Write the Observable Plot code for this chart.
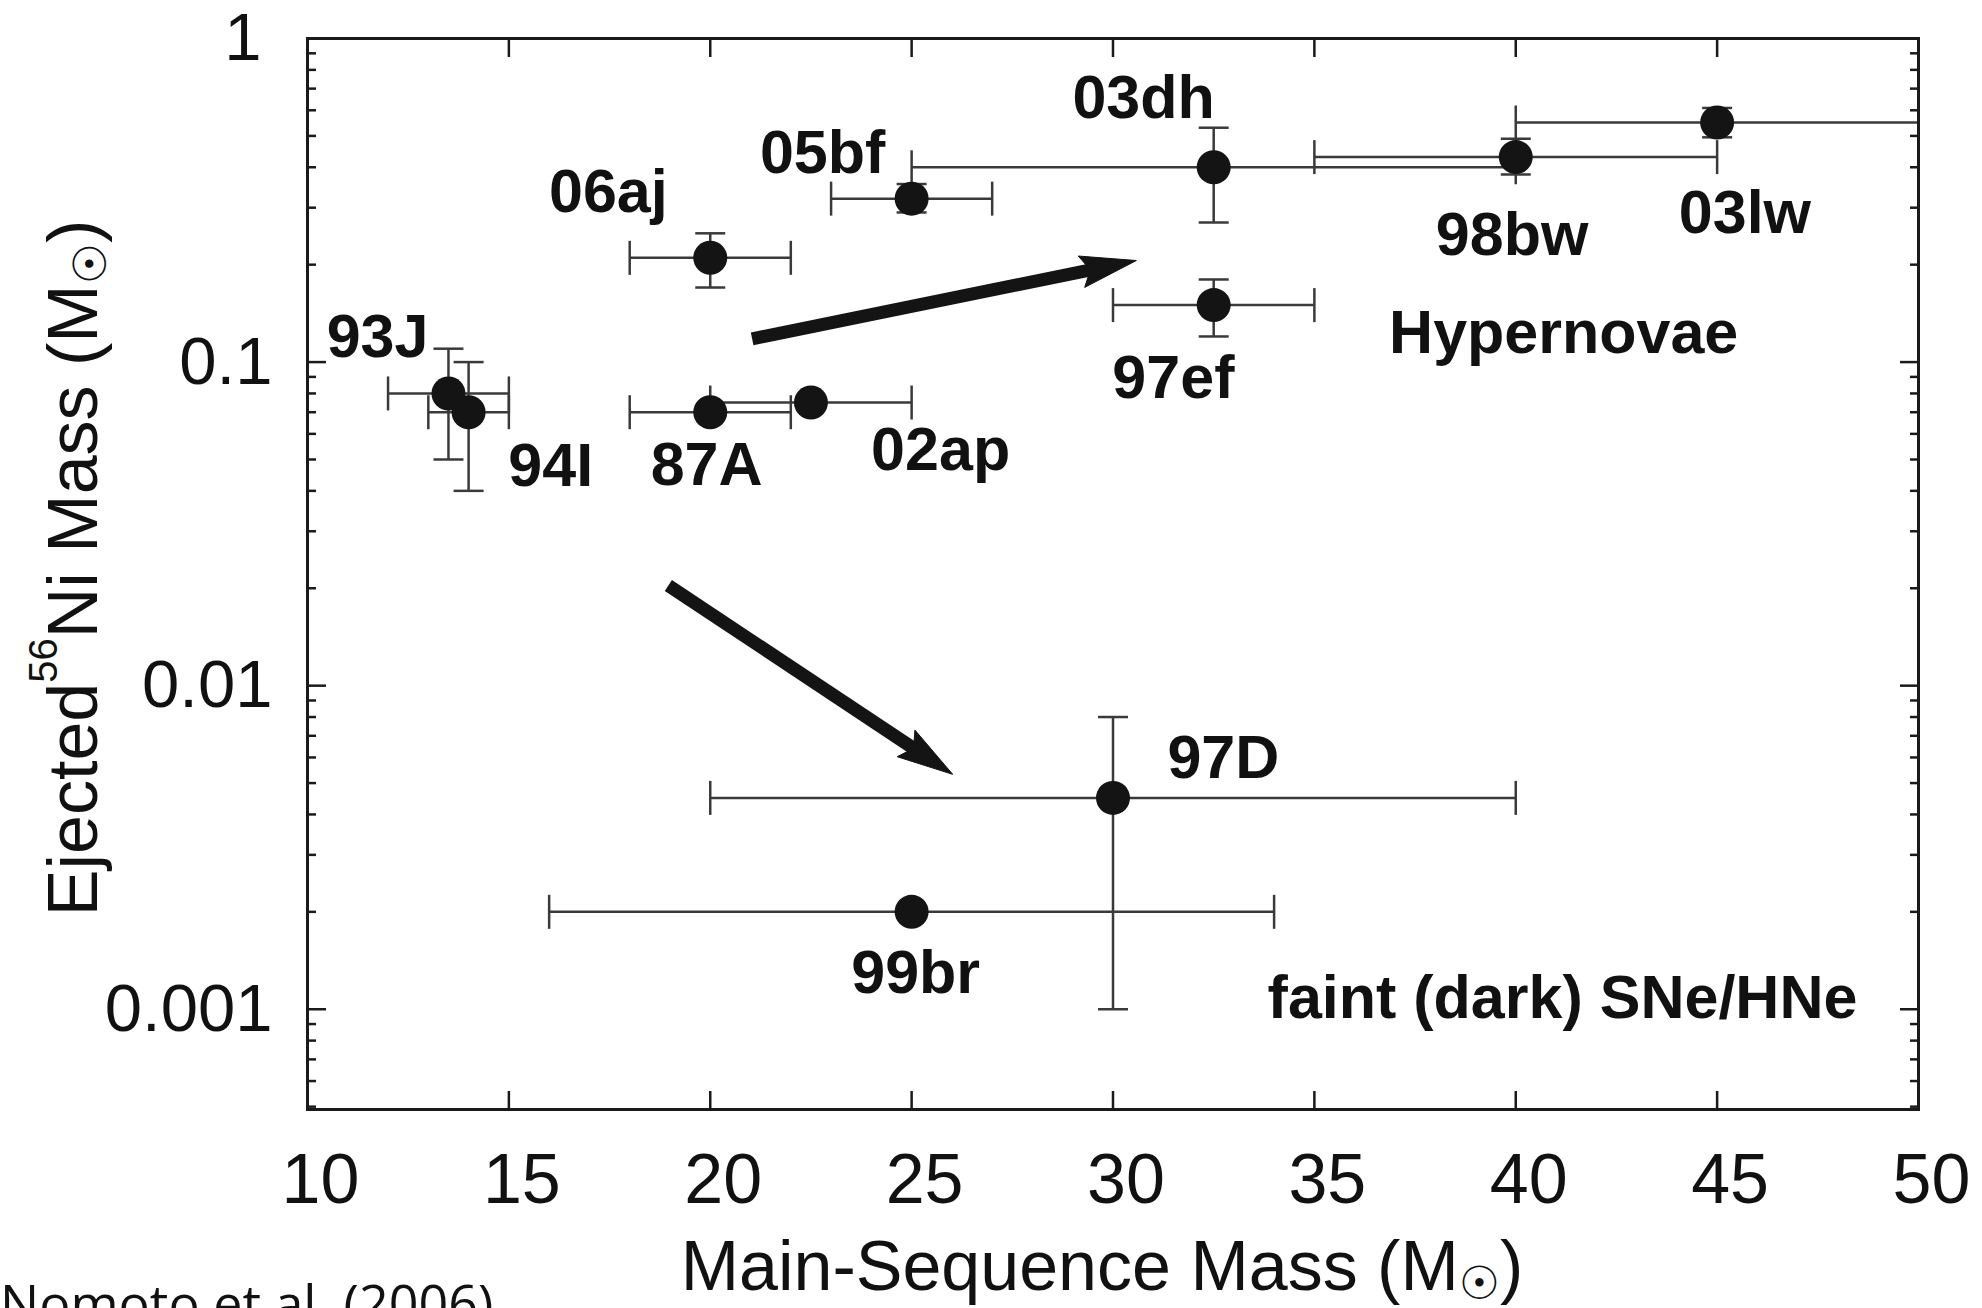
<!DOCTYPE html>
<html>
<head>
<meta charset="utf-8">
<script src="https://cdn.jsdelivr.net/npm/d3@7"></script>
<script src="https://cdn.jsdelivr.net/npm/@observablehq/plot@0.6"></script>
<style>
  html, body { margin: 0; padding: 0; background: #fff; }
  #wrap { position: relative; width: 1982px; height: 1308px; overflow: hidden; background: #fff; }
  #caption { position: absolute; left: 0; top: 1276px; font-family: "Open Sans", sans-serif; font-size: 52px; line-height: 52px; color: #111; white-space: nowrap; }
</style>
</head>
<body>
<div id="wrap"><div id="chart"></div><div id="caption">Nomoto et al. (2006)</div></div>
<script>
// ---- data ----
const names  = ["93J", "94I", "87A", "02ap", "06aj", "05bf", "03dh", "97ef", "98bw", "03lw", "97D", "99br"];
const mass   = [13.5, 14, 20, 22.5, 20, 25, 32.5, 32.5, 40, 45, 30, 25];
const massLo = [12, 13, 18, 20, 18, 23, 25, 30, 35, 40, 20, 16];
const massHi = [15, 15, 22, 25, 22, 27, 40, 35, 45, 50, 40, 34];
const ni     = [0.08, 0.07, 0.07, 0.075, 0.21, 0.32, 0.40, 0.15, 0.43, 0.55, 0.0045, 0.002];
const niLo   = [0.05, 0.04, null, null, 0.17, 0.29, 0.27, 0.12, 0.38, 0.495, 0.001, null];
const niHi   = [0.11, 0.10, null, null, 0.25, 0.355, 0.53, 0.18, 0.49, 0.61, 0.008, null];

const labelText = ["93J", "94I", "87A", "02ap", "06aj", "05bf", "03dh", "97ef", "98bw", "03lw", "97D", "99br", "Hypernovae", "faint (dark) SNe/HNe"];
const labelX    = [11.74, 16.04, 19.91, 25.72, 17.47, 22.79, 30.76, 31.50, 39.91, 45.69, 32.74, 25.1, 41.19, 41.16];
const labelY    = [0.119, 0.0476, 0.0479, 0.0533, 0.334, 0.441, 0.653, 0.0893, 0.246, 0.288, 0.00596, 0.00129, 0.1226, 0.00108];

const arrowX1 = [21.04, 18.96];
const arrowY1 = [0.118, 0.0204];
const arrowX2 = [30.58, 26.02];
const arrowY2 = [0.206, 0.00532];

const xTicks = [10, 15, 20, 25, 30, 35, 40, 45, 50];
const yMajor = [1, 0.1, 0.01, 0.001];
const yMajorLabels = ["1", "0.1", "0.01", "0.001"];
const xDomain = [10, 50];
const yDomain = [0.00049, 1];

// ---- layout ----
const W = 1982, H = 1308, mL = 307, mR = 64, mT = 38, mB = 199;
const FONT = "'Liberation Sans', Arial, Helvetica, sans-serif";
const INK = "#141414";

// tables built from the arrays
const pts = names.map((n, i) => ({name: n, x: mass[i], y: ni[i], xlo: massLo[i], xhi: massHi[i], ylo: niLo[i], yhi: niHi[i]}));
const withY = pts.filter(d => d.ylo != null);
const labels = labelText.map((t, i) => ({t, x: labelX[i], y: labelY[i]}));
const arrows = arrowX1.map((x1, i) => ({x1, y1: arrowY1[i], x2: arrowX2[i], y2: arrowY2[i]}));

// minor log ticks from the log scale itself
const yMinor = d3.scaleLog().domain(yDomain).ticks().filter(v => !yMajor.some(m => Math.abs(m - v) / m < 1e-9));

// cap symbols
const vCap = {draw(ctx, size) { const r = Math.sqrt(size / Math.PI); ctx.moveTo(0, -r); ctx.lineTo(0, r); }};
const hCap = {draw(ctx, size) { const r = Math.sqrt(size / Math.PI); ctx.moveTo(-r, 0); ctx.lineTo(r, 0); }};

// arrow head direction in pixel space (same domain/range as the plot)
const sx = d3.scaleLinear().domain(xDomain).range([mL, W - mR]);
const sy = d3.scaleLog().domain(yDomain).range([H - mB, mT]);
const HEAD_L = 56, HEAD_W = 16, NOTCH = 47;
function headSymbol(theta) {
  const c = Math.cos(theta), s = Math.sin(theta);
  const pt = (a, b) => [a * c - b * s, a * s + b * c];
  return {draw(ctx) {
    const p0 = pt(0, 0), p1 = pt(-HEAD_L, HEAD_W), p2 = pt(-NOTCH, 0), p3 = pt(-HEAD_L, -HEAD_W);
    ctx.moveTo(p0[0], p0[1]); ctx.lineTo(p1[0], p1[1]); ctx.lineTo(p2[0], p2[1]); ctx.lineTo(p3[0], p3[1]); ctx.closePath();
  }};
}
const headMarks = arrows.map(a => {
  const theta = Math.atan2(sy(a.y2) - sy(a.y1), sx(a.x2) - sx(a.x1));
  return Plot.dot([a], {x: "x2", y: "y2", r: 5, symbol: headSymbol(theta), fill: INK, stroke: INK, strokeWidth: 1});
});

const tickStyle = {fill: "none", stroke: "#1a1a1a", strokeWidth: 2.5, label: null};
const yLabelFormat = d => yMajorLabels[yMajor.indexOf(d)];

const plot = Plot.plot({
  width: W, height: H,
  marginLeft: mL, marginRight: mR, marginTop: mT, marginBottom: mB,
  style: {fontFamily: FONT, fontSize: "70px", color: "#111", background: "#fff", overflow: "visible"},
  x: {type: "linear", domain: xDomain, axis: null, label: null},
  y: {type: "log", domain: yDomain, axis: null, label: null},
  marks: [
    // ticks (inward) on all four sides
    Plot.axisX(xTicks, {anchor: "bottom", tickSize: -18, ...tickStyle}),
    Plot.axisX(xTicks, {anchor: "top", tickSize: -18, ...tickStyle}),
    Plot.axisY(yMajor, {anchor: "left", tickSize: -19, ...tickStyle}),
    Plot.axisY(yMajor, {anchor: "right", tickSize: -19, ...tickStyle}),
    Plot.axisY(yMinor, {anchor: "left", tickSize: -9, ...tickStyle}),
    Plot.axisY(yMinor, {anchor: "right", tickSize: -9, ...tickStyle}),
    // tick labels
    Plot.axisX(xTicks, {anchor: "bottom", tickSize: 0, tickPadding: 44, dx: 13, fill: "#111", fontSize: 70, label: null}),
    Plot.axisY(yMajor.slice(0, 1), {anchor: "left", tickSize: 0, tickPadding: 46, fill: "#111", fontSize: 67, label: null, tickFormat: yLabelFormat}),
    Plot.axisY(yMajor.slice(1), {anchor: "left", tickSize: 0, tickPadding: 35, fill: "#111", fontSize: 67, label: null, tickFormat: yLabelFormat}),
    // error bars
    Plot.ruleY(pts, {y: "y", x1: "xlo", x2: "xhi", stroke: "#3a3a3a", strokeWidth: 2.5}),
    Plot.ruleX(withY, {x: "x", y1: "ylo", y2: "yhi", stroke: "#3a3a3a", strokeWidth: 2.5}),
    Plot.dot(pts, {x: "xlo", y: "y", symbol: vCap, r: 17, fill: "none", stroke: "#3a3a3a", strokeWidth: 2.5}),
    Plot.dot(pts, {x: "xhi", y: "y", symbol: vCap, r: 17, fill: "none", stroke: "#3a3a3a", strokeWidth: 2.5}),
    Plot.dot(withY, {x: "x", y: "ylo", symbol: hCap, r: 15, fill: "none", stroke: "#3a3a3a", strokeWidth: 2.5}),
    Plot.dot(withY, {x: "x", y: "yhi", symbol: hCap, r: 15, fill: "none", stroke: "#3a3a3a", strokeWidth: 2.5}),
    // data points
    Plot.dot(pts, {x: "x", y: "y", r: 17, fill: INK, stroke: "none"}),
    // arrows
    Plot.arrow(arrows, {x1: "x1", y1: "y1", x2: "x2", y2: "y2", stroke: INK, strokeWidth: 13, headLength: 0, insetEnd: NOTCH - 3, strokeLinecap: "butt"}),
    ...headMarks,
    // labels
    Plot.text(labels, {x: "x", y: "y", text: "t", fontSize: 61, fontWeight: "bold", fill: "#111", fontFamily: FONT, lineAnchor: "middle", textAnchor: "middle"}),
    // frame
    Plot.frame({stroke: "#1a1a1a", strokeWidth: 3})
  ]
});

document.getElementById("chart").appendChild(plot);

// axis titles with sub/superscripts
const svg = d3.select(plot);
const xt = svg.append("text")
  .attr("x", 1102).attr("y", 1290).attr("text-anchor", "middle")
  .attr("font-family", FONT).attr("font-size", 70).attr("fill", "#111");
xt.append("tspan").text("Main-Sequence Mass (M");
xt.append("tspan").attr("font-family", "'DejaVu Sans'").attr("font-size", 46).attr("dy", 9).text("\u2609");
xt.append("tspan").attr("dy", -9).text(")");

const yt = svg.append("text")
  .attr("transform", "translate(97,568) rotate(-90)").attr("text-anchor", "middle")
  .attr("font-family", FONT).attr("font-size", 70).attr("fill", "#111");
yt.append("tspan").text("Ejected");
yt.append("tspan").attr("font-size", 40).attr("dy", -40).text("56");
yt.append("tspan").attr("dy", 40).text("Ni Mass (M");
yt.append("tspan").attr("font-family", "'DejaVu Sans'").attr("font-size", 46).attr("dy", 9).text("\u2609");
yt.append("tspan").attr("dy", -9).text(")");
</script>
</body>
</html>
